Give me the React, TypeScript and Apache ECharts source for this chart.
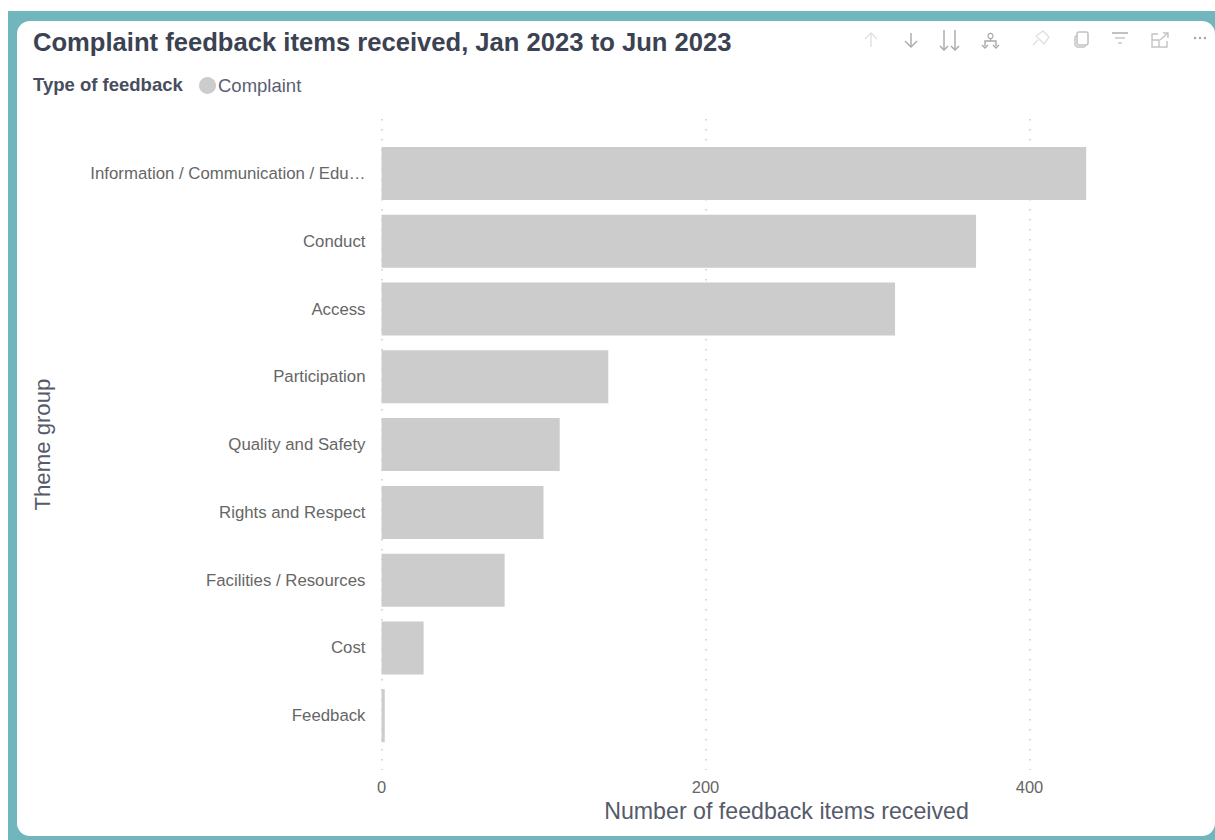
import React, { useEffect, useRef } from "react";
import * as echarts from "echarts";

const TITLE = "Complaint feedback items received, Jan 2023 to Jun 2023";
const LEGEND_TITLE = "Type of feedback";
const SERIES_NAME = "Complaint";
const Y_AXIS_NAME = "Theme group";
const X_AXIS_NAME = "Number of feedback items received";

const categories = [
  "Information / Communication / Edu…",
  "Conduct",
  "Access",
  "Participation",
  "Quality and Safety",
  "Rights and Respect",
  "Facilities / Resources",
  "Cost",
  "Feedback",
];
const complaintCounts = [435, 367, 317, 140, 110, 100, 76, 26, 2];

const X_MIN = 0;
const X_MAX = 500;
const X_INTERVAL = 200;

const FONT = '"Liberation Sans", Arial, sans-serif';
const TEAL = "#72b6bd";
const BAR = "#cccccc";

const line = (points: number[][], stroke: string, lineWidth = 1.4) => ({
  type: "polyline",
  silent: true,
  shape: { points },
  style: { stroke, lineWidth, fill: "none" },
});

const arrowDown = (x: number, y0: number, y1: number, stroke: string, head = 6) => [
  line([[x, y0], [x, y1]], stroke),
  line([[x - head, y1 - head], [x, y1], [x + head, y1 - head]], stroke),
];

// Visual-header buttons along the top right of the card
const toolbar = () => {
  const dim = "#e0e0e0";
  const mid = "#a8a8a8";
  const soft = "#c4c4c4";
  return [
    line([[871, 47], [871, 33]], dim),
    line([[865, 39], [871, 33], [877, 39]], dim),
    ...arrowDown(911, 33, 47, mid),
    ...arrowDown(944, 30, 50, mid, 4),
    ...arrowDown(955, 30, 50, mid, 4),
    line([[985, 46], [985, 41], [996, 41], [996, 46]], mid),
    { type: "circle", silent: true, shape: { cx: 990.5, cy: 36, r: 2.5 }, style: { fill: "#fff", stroke: mid, lineWidth: 1.2 } },
    line([[990.5, 38], [990.5, 41]], mid),
    line([[982, 45], [985, 48], [988, 45]], mid),
    line([[993, 45], [996, 48], [999, 45]], mid),
    line([[1033, 45], [1038, 40]], dim),
    line([[1036, 36], [1044, 44], [1049, 37], [1043, 31], [1036, 36]], dim),
    { type: "rect", silent: true, shape: { x: 1077, y: 32, width: 11, height: 13, r: 2 }, style: { fill: "#fff", stroke: soft, lineWidth: 1.6 } },
    line([[1077, 35], [1075, 37], [1075, 45], [1077, 47], [1084, 47], [1086, 45]], soft),
    line([[1112, 33], [1128, 33]], mid),
    line([[1115, 38], [1125, 38]], soft),
    line([[1118, 43], [1122, 43]], soft),
    line([[1158, 34], [1152, 34], [1152, 47], [1167, 47], [1167, 41]], soft),
    line([[1152, 40], [1159, 40], [1159, 47]], soft),
    line([[1160, 40], [1168, 33]], soft),
    line([[1163, 33], [1168, 33], [1168, 38]], soft),
    ...[1195, 1200, 1205].map((cx) => ({
      type: "circle",
      silent: true,
      shape: { cx, cy: 38, r: 1.2 },
      style: { fill: "#a0a0a0" },
    })),
  ];
};

export default function App() {
  const ref = useRef<HTMLDivElement>(null);

  useEffect(() => {
    const chart = echarts.init(ref.current!, null, { renderer: "svg" });
    const valueAxisBase = { type: "value", min: X_MIN, max: X_MAX, interval: X_INTERVAL };

    chart.setOption({
      animation: false,
      backgroundColor: "#ffffff",
      textStyle: { fontFamily: FONT },
      title: {
        text: TITLE,
        left: 33,
        top: 29,
        padding: 0,
        textStyle: { fontFamily: FONT, fontSize: 25.6, fontWeight: "bold", color: "#3b4252" },
      },
      legend: {
        data: [SERIES_NAME],
        left: 199,
        top: 76,
        padding: 0,
        icon: "circle",
        itemWidth: 17,
        itemHeight: 17,
        itemGap: 0,
        textStyle: { fontFamily: FONT, fontSize: 18.5, color: "#5a6072", padding: [0, 0, 0, -3] },
      },
      graphic: [
        {
          type: "group",
          silent: true,
          z: -10,
          children: [
            { type: "rect", shape: { x: 8, y: 11, width: 1207, height: 829 }, style: { fill: TEAL } },
            { type: "rect", shape: { x: 17, y: 21, width: 1198, height: 815, r: 13 }, style: { fill: "#ffffff" } },
          ],
        },
        {
          type: "text",
          silent: true,
          x: 33,
          y: 75,
          style: { text: LEGEND_TITLE, font: `bold 18.5px ${FONT}`, fill: "#474d5e" },
        },
        { type: "group", silent: true, children: toolbar() },
      ],
      grid: [
        // Taller grid that carries the value axis and its dotted lines
        { left: 381.5, width: 810, top: 119, height: 651 },
        // Inner grid that holds the bars
        { left: 381.5, width: 810, top: 139.6, height: 610 },
      ],
      xAxis: [
        {
          ...valueAxisBase,
          gridIndex: 0,
          name: X_AXIS_NAME,
          nameLocation: "middle",
          nameGap: 28,
          nameTextStyle: { fontFamily: FONT, fontSize: 23.2, color: "#555b6a" },
          axisLine: { show: false },
          axisTick: { show: false },
          axisLabel: { showMaxLabel: false, margin: 8, fontFamily: FONT, fontSize: 16.5, color: "#666666" },
          splitLine: {
            show: true,
            showMaxLine: false,
            lineStyle: { type: [1.5, 8.5], color: "#c8c8c8", width: 1.5 },
          },
        },
        {
          ...valueAxisBase,
          gridIndex: 1,
          show: false,
        },
      ],
      yAxis: [
        { type: "value", gridIndex: 0, min: 0, max: 1, show: false },
        {
          type: "category",
          gridIndex: 1,
          inverse: true,
          data: categories,
          name: Y_AXIS_NAME,
          nameLocation: "middle",
          nameGap: 328,
          nameRotate: 90,
          nameTextStyle: { fontFamily: FONT, fontSize: 22.2, color: "#555b6a" },
          axisLine: { show: false },
          axisTick: { show: false },
          axisLabel: {
            margin: 16,
            interval: 0,
            fontFamily: FONT,
            fontSize: 16.8,
            color: "#666666",
          },
        },
      ],
      series: [
        {
          type: "bar",
          name: SERIES_NAME,
          xAxisIndex: 1,
          yAxisIndex: 1,
          data: complaintCounts,
          barWidth: 53,
          itemStyle: { color: BAR },
        },
      ],
    });

    return () => chart.dispose();
  }, []);

  return <div ref={ref} style={{ position: "fixed", left: 0, top: 0, width: 1215, height: 840 }} />;
}
